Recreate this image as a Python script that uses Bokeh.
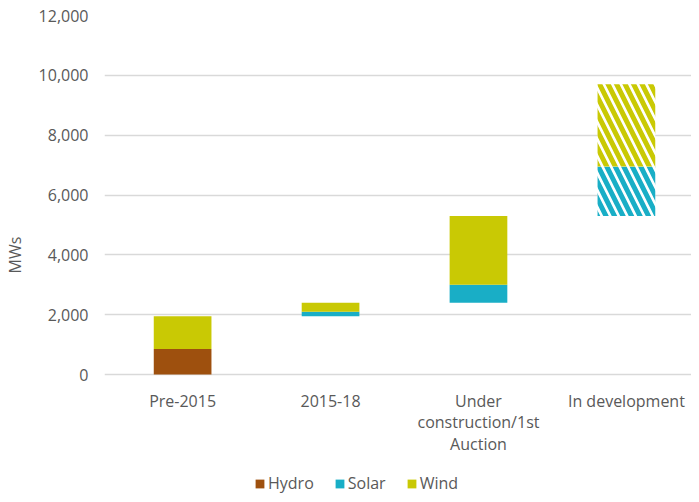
from bokeh.plotting import figure
from bokeh.models import Range1d, Legend, LegendItem, NumeralTickFormatter, FixedTicker, ColumnDataSource
from bokeh.core.properties import value
from bokeh.embed import file_html
from bokeh.resources import INLINE

categories = ["Pre-2015", "2015-18", "Under\nconstruction/1st\nAuction", "In development"]
hydro = [850, 0, 0, 0]
solar = [0, 150, 600, 1650]
wind = [1100, 300, 2300, 2750]
planned = [False, False, False, True]
y_ticks = [0, 2000, 4000, 6000, 8000, 10000, 12000]

HYDRO_C = "#9E500E"
SOLAR_C = "#19AEC6"
WIND_C = "#C9C904"
TEXT_C = "#595959"
FONT = "Open Sans"
FS = "16px"

# waterfall: each bar starts where the previous total ended
starts = []
acc = 0
for h, s, w in zip(hydro, solar, wind):
    starts.append(acc)
    acc += h + s + w

x = list(range(len(categories)))
h_bot = starts
h_top = [b + h for b, h in zip(starts, hydro)]
s_top = [b + s for b, s in zip(h_top, solar)]
w_top = [b + w for b, w in zip(s_top, wind)]

def pick(vals, flag):
    return [v for v, p in zip(vals, planned) if p == flag]

solid = ColumnDataSource(dict(x=pick(x, False), hb=pick(h_bot, False), ht=pick(h_top, False),
                              st=pick(s_top, False), wt=pick(w_top, False)))
hatch = ColumnDataSource(dict(x=pick(x, True), hb=pick(h_bot, True), ht=pick(h_top, True),
                              st=pick(s_top, True), wt=pick(w_top, True)))

# frame runs to the bottom of the figure; category labels + legend live inside it
p = figure(width=691, height=494, output_backend="svg", toolbar_location=None,
           x_range=Range1d(-0.528, 3.44), y_range=Range1d(-4011, 12000),
           min_border_left=97, min_border_right=0, min_border_top=15, min_border_bottom=0)
p.outline_line_color = None
p.background_fill_color = "white"
p.border_fill_color = "white"

W = 0.39
rh = p.vbar(x="x", bottom="hb", top="ht", width=W, source=solid, fill_color=HYDRO_C, line_color=None)
rs = p.vbar(x="x", bottom="ht", top="st", width=W, source=solid, fill_color=SOLAR_C, line_color=None)
rw = p.vbar(x="x", bottom="st", top="wt", width=W, source=solid, fill_color=WIND_C, line_color=None)

p.vbar(x="x", bottom="ht", top="st", width=W, source=hatch, fill_color="white", line_color=None,
       hatch_pattern="\\", hatch_color=SOLAR_C, hatch_weight=5, hatch_scale=17)
p.vbar(x="x", bottom="st", top="wt", width=W, source=hatch, fill_color="white", line_color=None,
       hatch_pattern="\\", hatch_color=WIND_C, hatch_weight=5, hatch_scale=17)

# category labels under the zero line (one text row per label line)
lx, ly, lt, loff = [], [], [], []
for i, c in enumerate(categories):
    for k, line in enumerate(c.split("\n")):
        lx.append(i)
        ly.append(0)
        lt.append(line)
        loff.append(26 + 21.5 * k)
p.text(x=lx, y=ly, text=lt, y_offset=loff, text_align="center", text_baseline="middle",
       text_font=value(FONT), text_font_size=value(FS), text_color=TEXT_C)

p.xaxis.visible = False
p.xgrid.grid_line_color = None
p.ygrid.grid_line_color = "#d9d9d9"
p.ygrid.grid_line_width = 1.5
p.ygrid.ticker = FixedTicker(ticks=y_ticks)

p.yaxis.ticker = FixedTicker(ticks=y_ticks)
p.yaxis.formatter = NumeralTickFormatter(format="0,0")
p.yaxis.axis_line_color = None
p.yaxis.major_tick_line_color = None
p.yaxis.minor_tick_line_color = None
p.yaxis.major_label_text_font = FONT
p.yaxis.major_label_text_font_size = FS
p.yaxis.major_label_text_color = TEXT_C
p.yaxis.major_label_standoff = 10
p.yaxis.axis_label = "MWs"
p.yaxis.axis_label_text_font = FONT
p.yaxis.axis_label_text_font_size = FS
p.yaxis.axis_label_text_font_style = "normal"
p.yaxis.axis_label_text_color = TEXT_C
p.yaxis.axis_label_standoff = 10

legend = Legend(items=[LegendItem(label="Hydro", renderers=[rh]),
                       LegendItem(label="Solar", renderers=[rs]),
                       LegendItem(label="Wind", renderers=[rw])],
                orientation="horizontal", location=(150, 0))
legend.border_line_color = None
legend.background_fill_alpha = 0
legend.label_text_font = FONT
legend.label_text_font_size = FS
legend.label_text_color = TEXT_C
legend.glyph_width = 11
legend.glyph_height = 11
legend.label_standoff = 3
legend.spacing = 20
legend.padding = 0
legend.margin = 0
p.add_layout(legend, "center")

open("out.html", "w").write(file_html(p, INLINE))
